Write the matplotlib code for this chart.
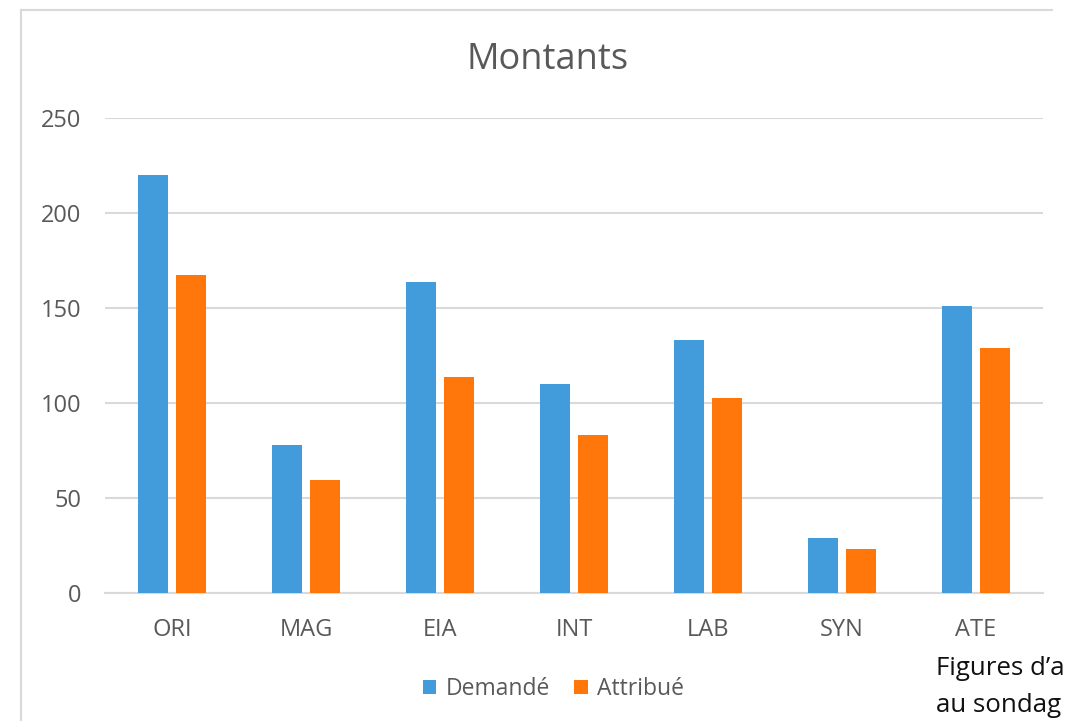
import matplotlib.pyplot as plt
from matplotlib.lines import Line2D
import numpy as np

plt.rcParams['font.family'] = ['Open Sans', 'DejaVu Sans']

categories = ["ORI", "MAG", "EIA", "INT", "LAB", "SYN", "ATE"]
demande = [220, 78, 163.5, 109.8, 133.2, 28.8, 151]
attribue = [167.4, 59.5, 113.5, 83.2, 102.4, 23.0, 129.2]
series_names = ["Demandé", "Attribué"]
yticks = [0, 50, 100, 150, 200, 250]

blue = "#429bdb"
orange = "#ff770a"
grey_txt = "#595959"
grid_col = "#d9d9d9"

fig = plt.figure(figsize=(10.66, 7.21), dpi=100)
ax = fig.add_axes([0.0985, 0.1775, 0.8799, 0.6588])

x = np.arange(len(categories))
w = 0.224
off = 0.142
ax.bar(x - off, demande, w, color=blue, label=series_names[0], zorder=3)
ax.bar(x + off, attribue, w, color=orange, label=series_names[1], zorder=3)

ax.set_xlim(-0.5, len(categories) - 0.5)
ax.set_ylim(0, 250)
ax.set_yticks(yticks)
ax.set_xticks(x)
ax.set_xticklabels(categories)
ax.tick_params(axis='both', length=0, labelsize=17, labelcolor=grey_txt)
ax.tick_params(axis='y', pad=17)
ax.tick_params(axis='x', pad=18)
ax.grid(axis='y', color=grid_col, linewidth=1.5, zorder=0)
for side in ['top', 'right', 'left']:
    ax.spines[side].set_visible(False)
ax.spines['bottom'].set_color(grid_col)
ax.spines['bottom'].set_linewidth(1.5)

fig.text(0.514, 0.917, "Montants", ha='center', va='center', fontsize=26, color=grey_txt)

ax.legend(loc='center', bbox_to_anchor=(0.519, 0.044), bbox_transform=fig.transFigure,
          ncol=2, frameon=False, fontsize=16.5, labelcolor=grey_txt,
          handlelength=0.6, handleheight=0.6, handletextpad=0.4, columnspacing=1.05)

# chart frame (left and top edges visible)
fig.add_artist(Line2D([21 / 1066, 21 / 1066], [0, 1 - 10 / 721], color=grid_col, linewidth=1.5))
fig.add_artist(Line2D([21 / 1066, 1052 / 1066], [1 - 10 / 721, 1 - 10 / 721], color=grid_col, linewidth=1.5))

# document text at the right edge
fig.text(936 / 1066, 1 - 675 / 721, "Figures d’a", fontsize=18.6, color="#111111", ha='left', va='baseline')
fig.text(936 / 1066, 1 - 712 / 721, "au sondag", fontsize=18.6, color="#111111", ha='left', va='baseline')

fig.savefig("out.png", dpi=100)
